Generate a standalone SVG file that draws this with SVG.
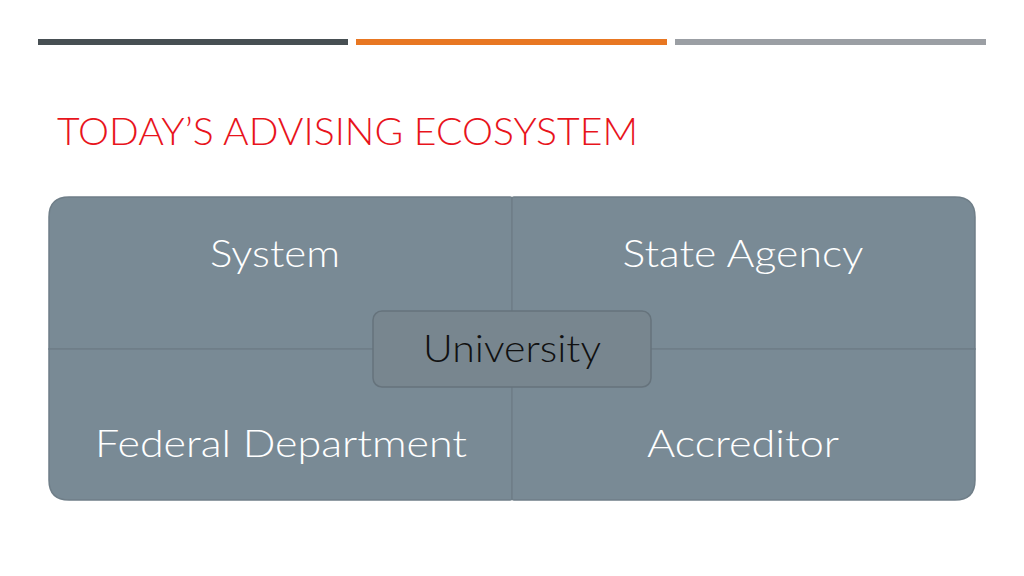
<svg xmlns="http://www.w3.org/2000/svg" width="1024" height="576" viewBox="0 0 1024 576">
<style>
.q{fill:#798a95;stroke:#6f7e88;stroke-width:1.5}
.lbl{font-family:Lato,"Open Sans","Liberation Sans",sans-serif;font-weight:300;font-size:37px;fill:#ffffff;text-anchor:middle}
</style>
<rect width="1024" height="576" fill="#ffffff"/>
<rect x="38" y="39" width="310" height="6" fill="#474f53"/>
<rect x="356" y="39" width="311" height="6" fill="#e87722"/>
<rect x="675" y="39" width="311" height="6" fill="#9b9fa4"/>
<text x="57" y="145" font-family="Lato,'Open Sans','Liberation Sans',sans-serif" font-weight="300" font-size="37" fill="#e8141c" textLength="581" lengthAdjust="spacingAndGlyphs">TODAY’S ADVISING ECOSYSTEM</text>
<g id="connectors"></g>
<g id="system">
<path class="q" d="M69,197 H510 Q512,197 512,199 V349 H49 V217 Q49,197 69,197 Z"/>
<text class="lbl" x="275" y="267" textLength="130" lengthAdjust="spacingAndGlyphs">System</text>
</g>
<g id="state-agency">
<path class="q" d="M514,197 H955 Q975,197 975,217 V349 H512 V199 Q512,197 514,197 Z"/>
<text class="lbl" x="743" y="267" textLength="241" lengthAdjust="spacingAndGlyphs">State Agency</text>
</g>
<g id="federal-department">
<path class="q" d="M49,349 H512 V498 Q512,500 510,500 H69 Q49,500 49,480 Z"/>
<text class="lbl" x="281" y="457" textLength="372" lengthAdjust="spacingAndGlyphs">Federal Department</text>
</g>
<g id="accreditor">
<path class="q" d="M512,349 H975 V480 Q975,500 955,500 H514 Q512,500 512,498 Z"/>
<text class="lbl" x="743" y="457" textLength="192" lengthAdjust="spacingAndGlyphs">Accreditor</text>
</g>
<g id="university">
<rect x="373" y="311" width="278" height="76" rx="9" fill="#78868f" stroke="#66737c" stroke-width="1.5"/>
<text x="512" y="362" font-family="Lato,'Open Sans','Liberation Sans',sans-serif" font-weight="300" font-size="37" fill="#111111" text-anchor="middle" textLength="178" lengthAdjust="spacingAndGlyphs">University</text>
</g>
</svg>
